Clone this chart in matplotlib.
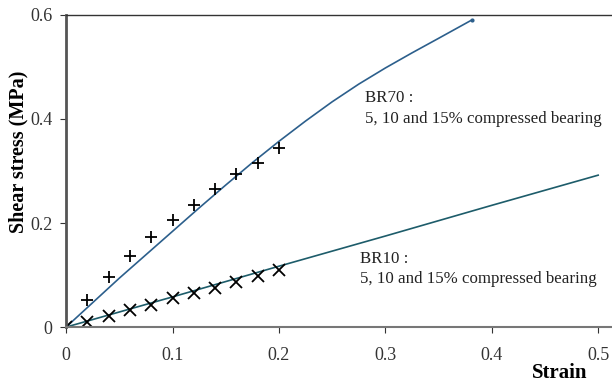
import matplotlib
matplotlib.use("Agg")
import matplotlib.pyplot as plt

plt.rcParams['font.family'] = ['Liberation Serif', 'DejaVu Serif']

# measured points
strain_pts = [0, 0.02, 0.04, 0.06, 0.08, 0.10, 0.12, 0.14, 0.16, 0.18, 0.20]
br70_pts = [0, 0.052, 0.097, 0.137, 0.174, 0.206, 0.235, 0.265, 0.294, 0.315, 0.345]
br10_pts = [0, 0.010, 0.021, 0.033, 0.042, 0.055, 0.065, 0.076, 0.087, 0.098, 0.110]

# fitted curves
br70_x = [0, 0.025, 0.05, 0.075, 0.10, 0.125, 0.15, 0.175, 0.20, 0.225,
          0.25, 0.275, 0.30, 0.325, 0.35, 0.381]
br70_y = [0, 0.047, 0.094, 0.139, 0.184, 0.229, 0.273, 0.316, 0.357, 0.396,
          0.433, 0.467, 0.498, 0.527, 0.555, 0.590]
br10_x = [0, 0.10, 0.20, 0.30, 0.40, 0.50]
br10_y = [0, 0.058, 0.117, 0.175, 0.234, 0.292]

fig = plt.figure(figsize=(6.12, 3.83), dpi=100)
ax = fig.add_axes([0.108, 0.146, 0.892, 0.815])

ax.plot(br70_x, br70_y, color='#2c5f8c', lw=1.2)
ax.plot(br70_x[-1:], br70_y[-1:], 'o', color='#2c5f8c', ms=2)
ax.plot(br10_x, br10_y, color='#1d5c6a', lw=1.2)
ax.plot(strain_pts, br70_pts, '+', color='black', ms=9, mew=1.3)
ax.plot(strain_pts, br10_pts, 'x', color='black', ms=8, mew=1.3)

ax.text(0.281, 0.42, 'BR70 :\n5, 10 and 15% compressed bearing',
        fontsize=12.2, va='center', linespacing=1.45, color='#222222')
ax.text(0.276, 0.111, 'BR10 :\n5, 10 and 15% compressed bearing',
        fontsize=12.2, va='center', linespacing=1.35, color='#222222')

ax.set_xlim(0, 0.513)
ax.set_ylim(0, 0.6)
ax.set_xticks([0, 0.1, 0.2, 0.3, 0.4, 0.5])
ax.set_xticklabels(['0', '0.1', '0.2', '0.3', '0.4', '0.5'])
ax.set_yticks([0, 0.2, 0.4, 0.6])
ax.set_yticklabels(['0', '0.2', '0.4', '0.6'])
ax.tick_params(labelsize=13, colors='#333333', length=4, pad=6)
ax.tick_params(axis='x', pad=10)

ax.spines['right'].set_visible(False)
ax.spines['left'].set_linewidth(2)
ax.spines['left'].set_color('#555555')
ax.spines['bottom'].set_linewidth(1.5)
ax.spines['bottom'].set_color('#777777')
ax.spines['top'].set_color('#333333')
ax.spines['top'].set_linewidth(1)

ax.set_ylabel('Shear stress (MPa)', fontsize=14.5, fontweight='bold')
ax.yaxis.set_label_coords(-0.068, 0.56)
fig.text(0.914, 0.012, 'Strain', fontsize=15, fontweight='bold', ha='center')

fig.savefig('out.png', dpi=100)
